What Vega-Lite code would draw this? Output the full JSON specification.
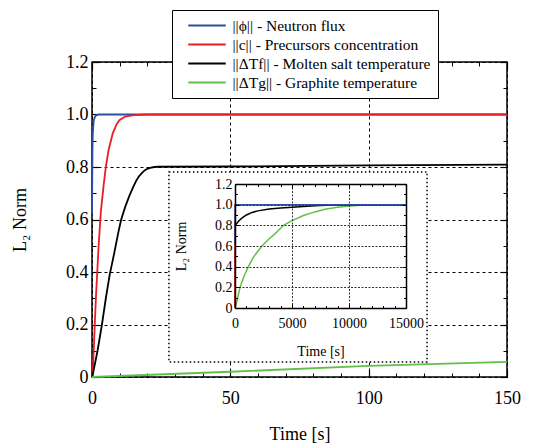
{
  "$schema": "https://vega.github.io/schema/vega-lite/v6.json",
  "width": 415,
  "height": 315,
  "autosize": {"type": "none"},
  "padding": {"left": 92, "top": 62, "right": 31, "bottom": 70},
  "background": "white",
  "config": {
    "font": "Liberation Serif",
    "view": {"stroke": "black", "strokeWidth": 1.5},
    "axis": {"labelFont": "Liberation Serif", "titleFont": "Liberation Serif", "labelColor": "black", "titleColor": "black", "tickColor": "black", "domainColor": "black", "titleFontWeight": "normal", "labelFlush": false, "labelOverlap": false},
    "legend": {"orient": "none", "legendX": 80, "legendY": -52, "direction": "vertical", "symbolType": "M-2.5,0H2.5", "symbolSize": 225, "symbolStrokeWidth": 1.8, "symbolOffset": 19.5, "labelFont": "Liberation Serif", "labelFontSize": 15.5, "labelColor": "black", "strokeColor": "black", "fillColor": "white", "padding": 7, "labelOffset": 17, "rowPadding": 2, "labelLimit": 500}
  },
  "data": {"values": [
    {"panel": "main", "series": "phi", "t": 0, "v": 0.62},
    {"panel": "main", "series": "phi", "t": 0.15, "v": 0.85},
    {"panel": "main", "series": "phi", "t": 0.3, "v": 0.93},
    {"panel": "main", "series": "phi", "t": 0.6, "v": 0.975},
    {"panel": "main", "series": "phi", "t": 1, "v": 0.99},
    {"panel": "main", "series": "phi", "t": 1.5, "v": 0.997},
    {"panel": "main", "series": "phi", "t": 2.5, "v": 1},
    {"panel": "main", "series": "phi", "t": 150, "v": 1},
    {"panel": "main", "series": "c", "t": 0, "v": 0},
    {"panel": "main", "series": "c", "t": 0.3, "v": 0.02},
    {"panel": "main", "series": "c", "t": 1.4, "v": 0.3},
    {"panel": "main", "series": "c", "t": 2.4, "v": 0.5},
    {"panel": "main", "series": "c", "t": 3.2, "v": 0.63},
    {"panel": "main", "series": "c", "t": 4.2, "v": 0.73},
    {"panel": "main", "series": "c", "t": 5, "v": 0.8},
    {"panel": "main", "series": "c", "t": 6, "v": 0.865},
    {"panel": "main", "series": "c", "t": 7.5, "v": 0.928},
    {"panel": "main", "series": "c", "t": 9, "v": 0.965},
    {"panel": "main", "series": "c", "t": 10, "v": 0.979},
    {"panel": "main", "series": "c", "t": 12, "v": 0.992},
    {"panel": "main", "series": "c", "t": 15, "v": 0.998},
    {"panel": "main", "series": "c", "t": 20, "v": 1},
    {"panel": "main", "series": "c", "t": 150, "v": 1},
    {"panel": "main", "series": "Tf", "t": 0, "v": 0},
    {"panel": "main", "series": "Tf", "t": 0.2, "v": 0.005},
    {"panel": "main", "series": "Tf", "t": 2, "v": 0.1},
    {"panel": "main", "series": "Tf", "t": 3.6, "v": 0.2},
    {"panel": "main", "series": "Tf", "t": 5, "v": 0.3},
    {"panel": "main", "series": "Tf", "t": 6.4, "v": 0.39},
    {"panel": "main", "series": "Tf", "t": 8, "v": 0.47},
    {"panel": "main", "series": "Tf", "t": 9.5, "v": 0.55},
    {"panel": "main", "series": "Tf", "t": 10.5, "v": 0.598},
    {"panel": "main", "series": "Tf", "t": 12, "v": 0.648},
    {"panel": "main", "series": "Tf", "t": 13.5, "v": 0.69},
    {"panel": "main", "series": "Tf", "t": 15, "v": 0.726},
    {"panel": "main", "series": "Tf", "t": 16, "v": 0.748},
    {"panel": "main", "series": "Tf", "t": 17, "v": 0.765},
    {"panel": "main", "series": "Tf", "t": 18, "v": 0.777},
    {"panel": "main", "series": "Tf", "t": 19, "v": 0.787},
    {"panel": "main", "series": "Tf", "t": 20, "v": 0.793},
    {"panel": "main", "series": "Tf", "t": 21, "v": 0.797},
    {"panel": "main", "series": "Tf", "t": 22.5, "v": 0.8},
    {"panel": "main", "series": "Tf", "t": 24, "v": 0.801},
    {"panel": "main", "series": "Tf", "t": 50, "v": 0.802},
    {"panel": "main", "series": "Tf", "t": 100, "v": 0.806},
    {"panel": "main", "series": "Tf", "t": 150, "v": 0.809},
    {"panel": "main", "series": "Tg", "t": 0, "v": 0},
    {"panel": "main", "series": "Tg", "t": 50, "v": 0.02},
    {"panel": "main", "series": "Tg", "t": 100, "v": 0.042},
    {"panel": "main", "series": "Tg", "t": 150, "v": 0.058},
    {"panel": "inset", "series": "phi", "t": 0, "v": 0.62},
    {"panel": "inset", "series": "phi", "t": 20, "v": 1},
    {"panel": "inset", "series": "phi", "t": 15000, "v": 1},
    {"panel": "inset", "series": "c", "t": 0, "v": 0},
    {"panel": "inset", "series": "c", "t": 15, "v": 1},
    {"panel": "inset", "series": "c", "t": 15000, "v": 1},
    {"panel": "inset", "series": "Tf", "t": 0, "v": 0},
    {"panel": "inset", "series": "Tf", "t": 25, "v": 0.8},
    {"panel": "inset", "series": "Tf", "t": 300, "v": 0.84},
    {"panel": "inset", "series": "Tf", "t": 600, "v": 0.87},
    {"panel": "inset", "series": "Tf", "t": 1000, "v": 0.9},
    {"panel": "inset", "series": "Tf", "t": 1500, "v": 0.925},
    {"panel": "inset", "series": "Tf", "t": 2000, "v": 0.94},
    {"panel": "inset", "series": "Tf", "t": 3000, "v": 0.958},
    {"panel": "inset", "series": "Tf", "t": 4000, "v": 0.968},
    {"panel": "inset", "series": "Tf", "t": 5000, "v": 0.976},
    {"panel": "inset", "series": "Tf", "t": 6000, "v": 0.983},
    {"panel": "inset", "series": "Tf", "t": 7000, "v": 0.989},
    {"panel": "inset", "series": "Tf", "t": 8000, "v": 0.994},
    {"panel": "inset", "series": "Tf", "t": 9000, "v": 0.997},
    {"panel": "inset", "series": "Tf", "t": 10000, "v": 0.999},
    {"panel": "inset", "series": "Tf", "t": 15000, "v": 1},
    {"panel": "inset", "series": "Tg", "t": 0, "v": 0},
    {"panel": "inset", "series": "Tg", "t": 200, "v": 0.08},
    {"panel": "inset", "series": "Tg", "t": 441, "v": 0.2},
    {"panel": "inset", "series": "Tg", "t": 800, "v": 0.31},
    {"panel": "inset", "series": "Tg", "t": 1180, "v": 0.4},
    {"panel": "inset", "series": "Tg", "t": 1600, "v": 0.49},
    {"panel": "inset", "series": "Tg", "t": 2356, "v": 0.6},
    {"panel": "inset", "series": "Tg", "t": 3000, "v": 0.67},
    {"panel": "inset", "series": "Tg", "t": 3528, "v": 0.72},
    {"panel": "inset", "series": "Tg", "t": 4260, "v": 0.8},
    {"panel": "inset", "series": "Tg", "t": 5000, "v": 0.845},
    {"panel": "inset", "series": "Tg", "t": 6000, "v": 0.895},
    {"panel": "inset", "series": "Tg", "t": 7000, "v": 0.93},
    {"panel": "inset", "series": "Tg", "t": 8000, "v": 0.958},
    {"panel": "inset", "series": "Tg", "t": 9000, "v": 0.975},
    {"panel": "inset", "series": "Tg", "t": 10000, "v": 0.987},
    {"panel": "inset", "series": "Tg", "t": 11000, "v": 0.994},
    {"panel": "inset", "series": "Tg", "t": 12500, "v": 0.998},
    {"panel": "inset", "series": "Tg", "t": 15000, "v": 1}
  ]},
  "layer": [
    {
      "resolve": {"axis": {"x": "independent", "y": "independent"}},
      "layer": [
        {
          "transform": [{"filter": "datum.panel == 'main' && datum.series == 'phi'"}],
          "mark": {"type": "line", "strokeWidth": 1.8},
          "encoding": {
            "x": {"field": "t", "type": "quantitative", "scale": {"domain": [0, 150], "nice": false, "zero": false},
              "axis": {"orient": "bottom", "values": [0, 50, 100, 150], "format": "d", "title": "Time [s]", "titleFontSize": 18, "labelFontSize": 18, "grid": true, "gridColor": "black", "gridDash": [3, 3], "gridWidth": 1, "domain": false, "tickSize": -7, "tickWidth": 1.2, "labelPadding": 19, "titlePadding": 18}},
            "y": {"field": "v", "type": "quantitative", "scale": {"domain": [0, 1.2], "nice": false},
              "axis": {"orient": "left", "values": [0, 0.2, 0.4, 0.6, 0.8, 1, 1.2], "labelExpr": "datum.value == 0 ? '0' : format(datum.value, '.1f')", "title": "L₂ Norm", "titleFontSize": 18, "labelFontSize": 18, "grid": true, "gridColor": "black", "gridDash": [3, 3], "gridWidth": 1, "domain": false, "tickSize": -7, "tickWidth": 1.2, "labelPadding": 11, "titlePadding": 36}},
            "color": {"field": "series", "type": "nominal", "scale": {"domain": ["phi", "c", "Tf", "Tg"], "range": ["#2c4ea3", "#ed1c24", "#000000", "#62bf47"]},
              "legend": {"title": null, "labelExpr": "{'phi': '||ϕ|| - Neutron flux', 'c': '||c|| - Precursors concentration', 'Tf': '||ΔTf|| - Molten salt temperature', 'Tg': '||ΔTg|| - Graphite temperature'}[datum.label]"}}
          }
        },
        {
          "transform": [{"filter": "datum.panel == 'main' && datum.series == 'c'"}],
          "mark": {"type": "line", "strokeWidth": 1.8},
          "encoding": {
            "x": {"field": "t", "type": "quantitative", "scale": {"domain": [0, 150], "nice": false, "zero": false},
              "axis": {"orient": "top", "values": [0, 50, 100, 150], "labels": false, "title": null, "grid": false, "domain": false, "tickSize": -7, "tickWidth": 1.2}},
            "y": {"field": "v", "type": "quantitative", "scale": {"domain": [0, 1.2], "nice": false},
              "axis": {"orient": "right", "values": [0, 0.2, 0.4, 0.6, 0.8, 1, 1.2], "labels": false, "title": null, "grid": false, "domain": false, "tickSize": -7, "tickWidth": 1.2}},
            "color": {"field": "series", "type": "nominal", "scale": {"domain": ["phi", "c", "Tf", "Tg"], "range": ["#2c4ea3", "#ed1c24", "#000000", "#62bf47"]}}
          }
        },
        {
          "transform": [{"filter": "datum.panel == 'main' && datum.series == 'Tf'"}],
          "mark": {"type": "line", "strokeWidth": 1.8},
          "encoding": {
            "x": {"field": "t", "type": "quantitative", "scale": {"domain": [0, 150], "nice": false, "zero": false},
              "axis": {"orient": "bottom", "values": [10, 20, 30, 40, 60, 70, 80, 90, 110, 120, 130, 140], "labels": false, "title": null, "grid": false, "domain": false, "tickSize": -4, "tickWidth": 1}},
            "y": {"field": "v", "type": "quantitative", "scale": {"domain": [0, 1.2], "nice": false},
              "axis": {"orient": "left", "values": [0.1, 0.3, 0.5, 0.7, 0.9, 1.1], "labels": false, "title": null, "grid": false, "domain": false, "tickSize": -4, "tickWidth": 1}},
            "color": {"field": "series", "type": "nominal", "scale": {"domain": ["phi", "c", "Tf", "Tg"], "range": ["#2c4ea3", "#ed1c24", "#000000", "#62bf47"]}}
          }
        },
        {
          "transform": [{"filter": "datum.panel == 'main' && datum.series == 'Tg'"}],
          "mark": {"type": "line", "strokeWidth": 1.8},
          "encoding": {
            "x": {"field": "t", "type": "quantitative", "scale": {"domain": [0, 150], "nice": false, "zero": false},
              "axis": {"orient": "top", "values": [10, 20, 30, 40, 60, 70, 80, 90, 110, 120, 130, 140], "labels": false, "title": null, "grid": false, "domain": false, "tickSize": -4, "tickWidth": 1}},
            "y": {"field": "v", "type": "quantitative", "scale": {"domain": [0, 1.2], "nice": false},
              "axis": {"orient": "right", "values": [0.1, 0.3, 0.5, 0.7, 0.9, 1.1], "labels": false, "title": null, "grid": false, "domain": false, "tickSize": -4, "tickWidth": 1}},
            "color": {"field": "series", "type": "nominal", "scale": {"domain": ["phi", "c", "Tf", "Tg"], "range": ["#2c4ea3", "#ed1c24", "#000000", "#62bf47"]}}
          }
        },
        {
          "data": {"values": [{}]},
          "mark": {"type": "rect", "fill": "white", "stroke": "black", "strokeWidth": 1.5, "strokeDash": [1.5, 2.5]},
          "encoding": {
            "x": {"datum": 27.8, "type": "quantitative", "scale": {"domain": [0, 150], "nice": false, "zero": false}, "axis": null},
            "x2": {"datum": 121.1},
            "y": {"datum": 0.057, "type": "quantitative", "scale": {"domain": [0, 1.2], "nice": false}, "axis": null},
            "y2": {"datum": 0.781}
          }
        }
      ]
    },
    {
      "resolve": {"axis": {"x": "independent", "y": "independent"}},
      "layer": [
        {
          "transform": [{"filter": "datum.panel == 'inset' && datum.series == 'Tg'"}],
          "mark": {"type": "line", "strokeWidth": 1.5},
          "encoding": {
            "x": {"field": "t", "type": "quantitative", "scale": {"domain": [0, 15000], "nice": false, "zero": false, "range": [143, 314]},
              "axis": {"orient": "bottom", "offset": -69, "zindex": 1, "values": [0, 5000, 10000, 15000], "format": "d", "title": "Time [s]", "titleFontSize": 14, "labelFontSize": 14, "grid": false, "domain": true, "domainWidth": 1.5, "tickSize": -4, "tickWidth": 1, "labelPadding": 12, "titlePadding": 14}},
            "y": {"field": "v", "type": "quantitative", "scale": {"domain": [0, 1.2], "nice": false, "range": [246, 122]},
              "axis": {"orient": "left", "offset": -143, "zindex": 1, "values": [0, 0.2, 0.4, 0.6, 0.8, 1, 1.2], "labelExpr": "datum.value == 0 ? '0' : format(datum.value, '.1f')", "title": "L₂ Norm", "titleFontSize": 14, "labelFontSize": 14, "grid": true, "gridColor": "#333333", "gridDash": [2, 1.5], "gridWidth": 1, "domain": true, "domainWidth": 1.5, "tickSize": -4, "tickWidth": 1, "labelPadding": 7, "titlePadding": 26}},
            "color": {"field": "series", "type": "nominal", "scale": {"domain": ["phi", "c", "Tf", "Tg"], "range": ["#2c4ea3", "#ed1c24", "#000000", "#62bf47"]}}
          }
        },
        {
          "transform": [{"filter": "datum.panel == 'inset' && datum.series == 'Tf'"}],
          "mark": {"type": "line", "strokeWidth": 1.5},
          "encoding": {
            "x": {"field": "t", "type": "quantitative", "scale": {"domain": [0, 15000], "nice": false, "zero": false, "range": [143, 314]},
              "axis": {"orient": "top", "offset": -122, "zindex": 1, "values": [0, 5000, 10000, 15000], "labels": false, "title": null, "grid": true, "gridColor": "#333333", "gridDash": [2, 1.5], "gridWidth": 1, "domain": true, "domainWidth": 1.5, "tickSize": -4, "tickWidth": 1}},
            "y": {"field": "v", "type": "quantitative", "scale": {"domain": [0, 1.2], "nice": false, "range": [246, 122]},
              "axis": {"orient": "right", "offset": -101, "zindex": 1, "values": [0, 0.2, 0.4, 0.6, 0.8, 1, 1.2], "labels": false, "title": null, "grid": false, "domain": true, "domainWidth": 1.5, "tickSize": -4, "tickWidth": 1}},
            "color": {"field": "series", "type": "nominal", "scale": {"domain": ["phi", "c", "Tf", "Tg"], "range": ["#2c4ea3", "#ed1c24", "#000000", "#62bf47"]}}
          }
        },
        {
          "transform": [{"filter": "datum.panel == 'inset' && datum.series == 'c'"}],
          "mark": {"type": "line", "strokeWidth": 1.5},
          "encoding": {
            "x": {"field": "t", "type": "quantitative", "scale": {"domain": [0, 15000], "nice": false, "zero": false, "range": [143, 314]},
              "axis": {"orient": "bottom", "offset": -69, "zindex": 1, "values": [1000, 2000, 3000, 4000, 6000, 7000, 8000, 9000, 11000, 12000, 13000, 14000], "labels": false, "title": null, "grid": false, "domain": false, "tickSize": -2.5, "tickWidth": 1}},
            "y": {"field": "v", "type": "quantitative", "scale": {"domain": [0, 1.2], "nice": false, "range": [246, 122]},
              "axis": {"orient": "left", "offset": -143, "zindex": 1, "values": [0.1, 0.3, 0.5, 0.7, 0.9, 1.1], "labels": false, "title": null, "grid": false, "domain": false, "tickSize": -2.5, "tickWidth": 1}},
            "color": {"field": "series", "type": "nominal", "scale": {"domain": ["phi", "c", "Tf", "Tg"], "range": ["#2c4ea3", "#ed1c24", "#000000", "#62bf47"]}}
          }
        },
        {
          "transform": [{"filter": "datum.panel == 'inset' && datum.series == 'phi'"}],
          "mark": {"type": "line", "strokeWidth": 1.5},
          "encoding": {
            "x": {"field": "t", "type": "quantitative", "scale": {"domain": [0, 15000], "nice": false, "zero": false, "range": [143, 314]},
              "axis": {"orient": "top", "offset": -122, "zindex": 1, "values": [1000, 2000, 3000, 4000, 6000, 7000, 8000, 9000, 11000, 12000, 13000, 14000], "labels": false, "title": null, "grid": false, "domain": false, "tickSize": -2.5, "tickWidth": 1}},
            "y": {"field": "v", "type": "quantitative", "scale": {"domain": [0, 1.2], "nice": false, "range": [246, 122]},
              "axis": {"orient": "right", "offset": -101, "zindex": 1, "values": [0.1, 0.3, 0.5, 0.7, 0.9, 1.1], "labels": false, "title": null, "grid": false, "domain": false, "tickSize": -2.5, "tickWidth": 1}},
            "color": {"field": "series", "type": "nominal", "scale": {"domain": ["phi", "c", "Tf", "Tg"], "range": ["#2c4ea3", "#ed1c24", "#000000", "#62bf47"]}}
          }
        }
      ]
    }
  ],
  "resolve": {"scale": {"x": "independent", "y": "independent"}}
}
